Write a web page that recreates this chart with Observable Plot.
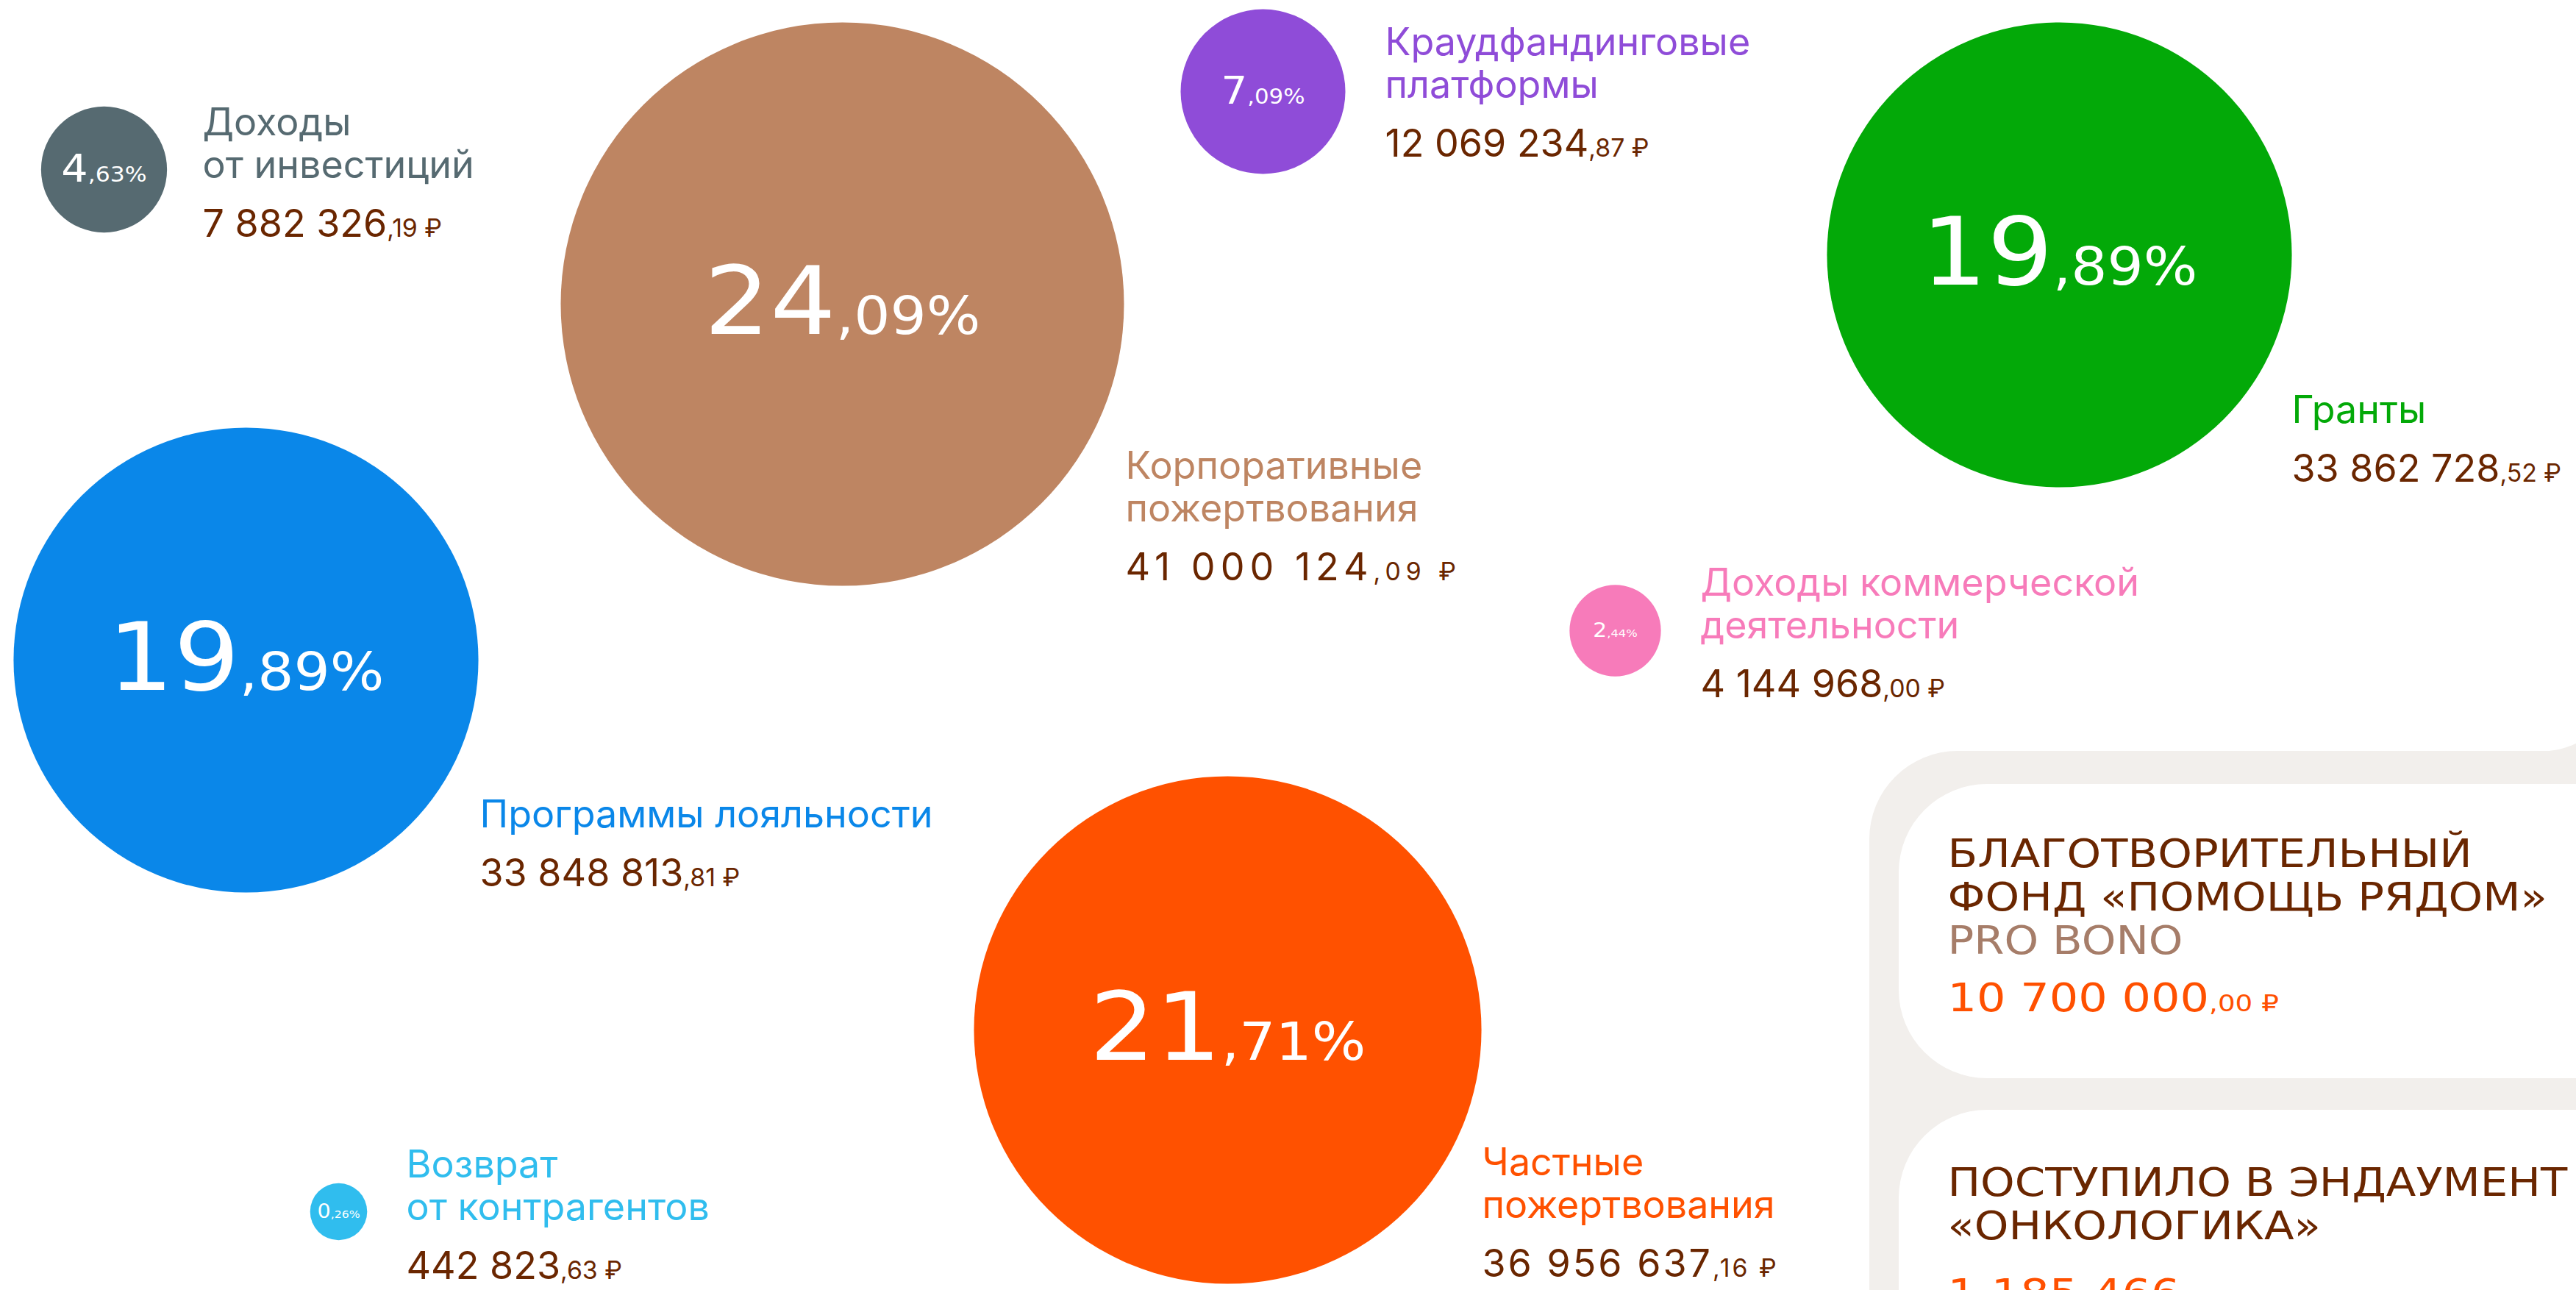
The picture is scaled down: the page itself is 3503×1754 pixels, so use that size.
<!DOCTYPE html>
<html>
<head>
<meta charset="utf-8">
<script src="https://cdn.jsdelivr.net/npm/d3@7"></script>
<script src="https://cdn.jsdelivr.net/npm/@observablehq/plot@0.6"></script>
<style>
html, body { margin: 0; padding: 0; background: #ffffff; overflow: hidden; }
#chart svg { display: block; overflow: hidden !important; }
</style>
</head>
<body>
<div id="chart"></div>
<script>
// ---------------- DATA ----------------
const categories = [
  "Доходы\nот инвестиций",
  "Краудфандинговые\nплатформы",
  "Корпоративные\nпожертвования",
  "Гранты",
  "Доходы коммерческой\nдеятельности",
  "Программы лояльности",
  "Возврат\nот контрагентов",
  "Частные\nпожертвования"
];
const shares = [4.63, 7.09, 24.09, 19.89, 2.44, 19.89, 0.26, 21.71];
const amounts = [7882326.19, 12069234.87, 41000124.09, 33862728.52, 4144968.00, 33848813.81, 442823.63, 36956637.16];
const colors = ["#566a71", "#8f4cd8", "#be8562", "#03a908", "#f77bba", "#0a87e9", "#30bdee", "#ff5100"];

const cardTitles = ["БЛАГОТВОРИТЕЛЬНЫЙ\nФОНД «ПОМОЩЬ РЯДОМ»", "ПОСТУПИЛО В ЭНДАУМЕНТ\n«ОНКОЛОГИКА»"];
const cardSubtitles = ["PRO BONO", ""];
const cardAmounts = [10700000.00, 1185466.84];

// ---------------- LAYOUT (pixels) ----------------
const W = 3503, H = 1754;
const bubbleX = [141, 1717, 1145, 2800, 2196, 334, 460, 1669];
const bubbleY = [230, 124, 413, 346, 857, 897, 1647, 1400];
const labelX  = [275, 1883, 1530, 3116, 2312, 652, 552, 2015];
const labelY  = [183, 74, 650, 574, 809, 1124, 1600, 1597]; // first-line baselines
const pctSize = [52, 51, 128, 128, 27, 128, 26, 128];
const amountSpacing = [0, 0, 7, 0, 0, 0, 0, 3];
const LINE = 58, AMOUNT_GAP = 80;

const cardX = 2648;
const cardTitleY = [1237, 1684];   // last-line baselines
const cardSubY = [1296, null];
const cardAmountY = [1374, 1776];

const panelRects = [
  {x1: 2542, x2: 3900, y1: 1021, y2: 2200, fill: "#f2efec"},
  {x1: 2582, x2: 3900, y1: 1066, y2: 1466, fill: "#ffffff"},
  {x1: 2582, x2: 3900, y1: 1509, y2: 2200, fill: "#ffffff"}
];
const cornerRect = [{x1: 3455, x2: 3600, y1: 905, y2: 1030}];
const cornerCut = [{x: 3455, y: 911}];

// ---------------- FORMAT ----------------
const loc = d3.formatLocale({decimal: ",", thousands: " ", grouping: [3], currency: ["", ""]});
const fmtAmount = v => loc.format(",.2f")(v) + " ₽";
const fmtPct = v => loc.format(".2f")(v) + "%";

const bubbles = categories.map((c, i) => {
  const n = c.split("\n").length;
  return {
    category: c, share: shares[i], amount: amounts[i], color: colors[i],
    cx: bubbleX[i], cy: bubbleY[i], lx: labelX[i],
    ly: labelY[i] + (n - 1) * LINE,
    ay: labelY[i] + (n - 1) * LINE + AMOUNT_GAP,
    pctSize: pctSize[i]
  };
});
const cards = cardTitles.map((t, i) => ({
  title: t, sub: cardSubtitles[i], amount: cardAmounts[i],
  x: cardX, ty: cardTitleY[i], sy: cardSubY[i], ay: cardAmountY[i]
}));

const brown = "#6a2600";

const chart = Plot.plot({
  width: W, height: H, margin: 0,
  x: {domain: [0, W], range: [0, W], axis: null},
  y: {domain: [0, H], range: [0, H], axis: null},
  r: {type: "linear", domain: [0, 7.09, 24.09], range: [36, 112, 383]},
  color: {type: "identity"},
  style: {background: "#ffffff", overflow: "hidden"},
  marks: [
    Plot.rect(cornerRect, {x1: "x1", x2: "x2", y1: "y1", y2: "y2", fill: "#f2efec"}),
    Plot.dot(cornerCut, {x: "x", y: "y", r: 110, fill: "#ffffff", sort: null}),
    Plot.rect(panelRects, {x1: "x1", x2: "x2", y1: "y1", y2: "y2", fill: "fill", rx: 120}),
    Plot.dot(bubbles, {x: "cx", y: "cy", r: "share", fill: "color"}),
    Plot.text(bubbles, {
      x: "cx", y: "cy", text: d => fmtPct(d.share), fontSize: d => d.pctSize,
      fill: "#ffffff", fontFamily: "DejaVu Sans", textAnchor: "middle", ariaDescription: "pct"
    }),
    Plot.text(bubbles, {
      x: "lx", y: "ly", text: "category", fill: "color", fontSize: 52, fontFamily: "Inter",
      textAnchor: "start", lineAnchor: "bottom", lineHeight: LINE / 52
    }),
    Plot.text(bubbles, {
      x: "lx", y: "ay", text: d => fmtAmount(d.amount), fill: brown, fontSize: 52, fontFamily: "Inter",
      textAnchor: "start", lineAnchor: "bottom", ariaDescription: "amount"
    }),
    Plot.text(cards, {
      x: "x", y: "ty", text: "title", fill: brown, fontSize: 53, fontFamily: "DejaVu Sans",
      textAnchor: "start", lineAnchor: "bottom", lineHeight: 59 / 53, ariaDescription: "cardTitle"
    }),
    Plot.text(cards.filter(d => d.sub), {
      x: "x", y: "sy", text: "sub", fill: "#a67d69", fontSize: 53, fontFamily: "DejaVu Sans",
      textAnchor: "start", lineAnchor: "bottom", ariaDescription: "cardTitle"
    }),
    Plot.text(cards, {
      x: "x", y: "ay", text: d => fmtAmount(d.amount), fill: "#ff5000", fontSize: 54, fontFamily: "DejaVu Sans",
      textAnchor: "start", lineAnchor: "bottom", ariaDescription: "cardAmount"
    })
  ]
});

document.getElementById("chart").appendChild(chart);

function splitDecimal(sel, ratio, spacing) {
  sel.each(function (_, i) {
    const t = this.textContent;
    const k = t.indexOf(",");
    if (k < 0) return;
    const fs = parseFloat(getComputedStyle(this).fontSize);
    this.textContent = "";
    const s = d3.select(this);
    if (spacing) s.attr("letter-spacing", spacing[i] || 0);
    s.append("tspan").text(t.slice(0, k));
    s.append("tspan").attr("font-size", fs * ratio).text(t.slice(k));
  });
}
function widen(sel, k) {
  sel.each(function () {
    const tr = this.getAttribute("transform") || "";
    this.setAttribute("transform", `${tr} scale(${k},1)`);
  });
}
const svg = d3.select(chart);
splitDecimal(svg.selectAll('g[aria-description="pct"] text'), 0.55);
splitDecimal(svg.selectAll('g[aria-description="amount"] text'), 0.65, amountSpacing);
splitDecimal(svg.selectAll('g[aria-description="cardAmount"] text'), 0.6);
widen(svg.selectAll('g[aria-description="pct"] text'), 1.1);
widen(svg.selectAll('g[aria-description="cardTitle"] text'), 1.12);
widen(svg.selectAll('g[aria-description="cardAmount"] text'), 1.15);
</script>
</body>
</html>
